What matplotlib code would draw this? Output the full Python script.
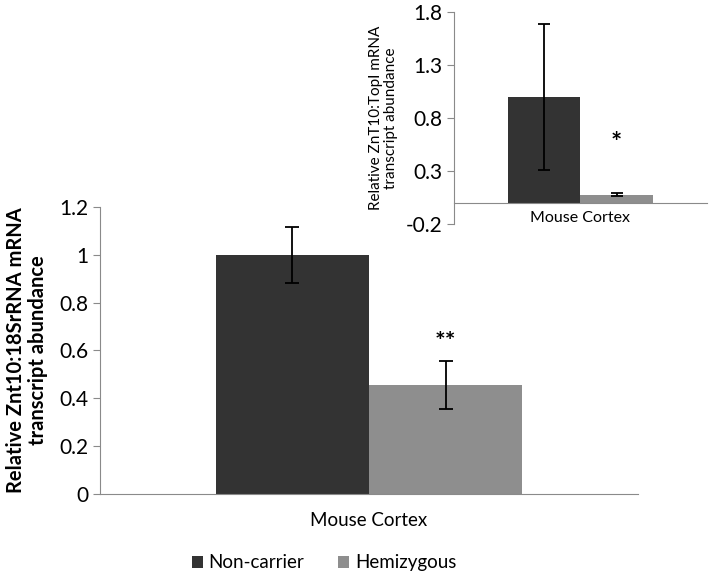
import numpy as np
import matplotlib.pyplot as plt
from matplotlib.patches import Patch

plt.rcParams['font.family'] = ['Lato', 'DejaVu Sans']

groups = ['Non-carrier', 'Hemizygous']
colors = ['#333333', '#8e8e8e']
category = 'Mouse Cortex'

# main chart: Znt10:18SrRNA
main_vals = [1.0, 0.457]
main_err = [0.118, 0.10]
main_sig = ['', '**']

# inset: ZnT10:TopI
inset_vals = [1.0, 0.075]
inset_err = [0.69, 0.015]
inset_sig = ['', '*']

fig = plt.figure(figsize=(7.12, 5.79), dpi=100)

axis_gray = '#8a8a8a'


def style(ax):
    for s in ['top', 'right']:
        ax.spines[s].set_visible(False)
    ax.spines['left'].set_color(axis_gray)
    ax.spines['bottom'].set_color(axis_gray)
    ax.tick_params(axis='y', color=axis_gray, length=5, direction='out')
    ax.tick_params(axis='x', length=0)


# main axes
ax = fig.add_axes([0.1404, 0.1468, 0.7556, 0.4957])
w = 0.285
x = np.array([-w / 2, w / 2])
ax.bar(x, main_vals, width=w, color=colors, yerr=main_err,
       error_kw=dict(ecolor='black', elinewidth=1.3, capsize=5, capthick=1.3))
for xi, v, e, s in zip(x, main_vals, main_err, main_sig):
    if s:
        ax.text(xi, v + e + 0.03, s, ha='center', va='bottom', fontsize=18, fontweight='bold')
ax.set_xlim(-0.5, 0.5)
ax.set_ylim(0, 1.2)
ax.set_yticks([0, 0.2, 0.4, 0.6, 0.8, 1.0, 1.2])
ax.set_yticklabels(['0', '0.2', '0.4', '0.6', '0.8', '1', '1.2'], fontsize=15)
ax.set_xticks([0])
ax.set_xticklabels([category], fontsize=13.5)
ax.tick_params(axis='x', pad=13)
ax.set_ylabel('Relative Znt10:18SrRNA mRNA\ntranscript abundance', fontsize=14.5,
              fontweight='bold', labelpad=8, linespacing=1.1)
style(ax)

# inset axes
ax2 = fig.add_axes([0.6376, 0.6131, 0.3554, 0.3662])
xi2 = np.array([-0.143, 0.143])
ax2.bar(xi2, inset_vals, width=0.286, color=colors, yerr=inset_err,
        error_kw=dict(ecolor='black', elinewidth=1.3, capsize=4, capthick=1.3))
for xx, v, e, s in zip(xi2, inset_vals, inset_err, inset_sig):
    if s:
        ax2.text(xx, 0.45, s, ha='center', va='bottom', fontsize=19, fontweight='bold')
ax2.set_xlim(-0.5, 0.5)
ax2.set_ylim(-0.2, 1.8)
ax2.set_yticks([-0.2, 0.3, 0.8, 1.3, 1.8])
ax2.set_yticklabels(['-0.2', '0.3', '0.8', '1.3', '1.8'], fontsize=15)
ax2.spines['bottom'].set_position(('data', 0))
ax2.set_xticks([0])
ax2.set_xticklabels([category], fontsize=11.5)
ax2.tick_params(axis='x', pad=6)
ax2.set_ylabel('Relative ZnT10:TopI mRNA\ntranscript abundance', fontsize=11, labelpad=5,
               linespacing=1.1)
style(ax2)
ax2.patch.set_alpha(0)

handles = [Patch(facecolor=c, label=g) for c, g in zip(colors, groups)]
fig.legend(handles=handles, loc='center', bbox_to_anchor=(0.455, 0.028), ncol=2,
           frameon=False, fontsize=13.5, handlelength=0.6, handleheight=0.6,
           handletextpad=0.3, columnspacing=1.8)

fig.savefig('out.png', dpi=100)
